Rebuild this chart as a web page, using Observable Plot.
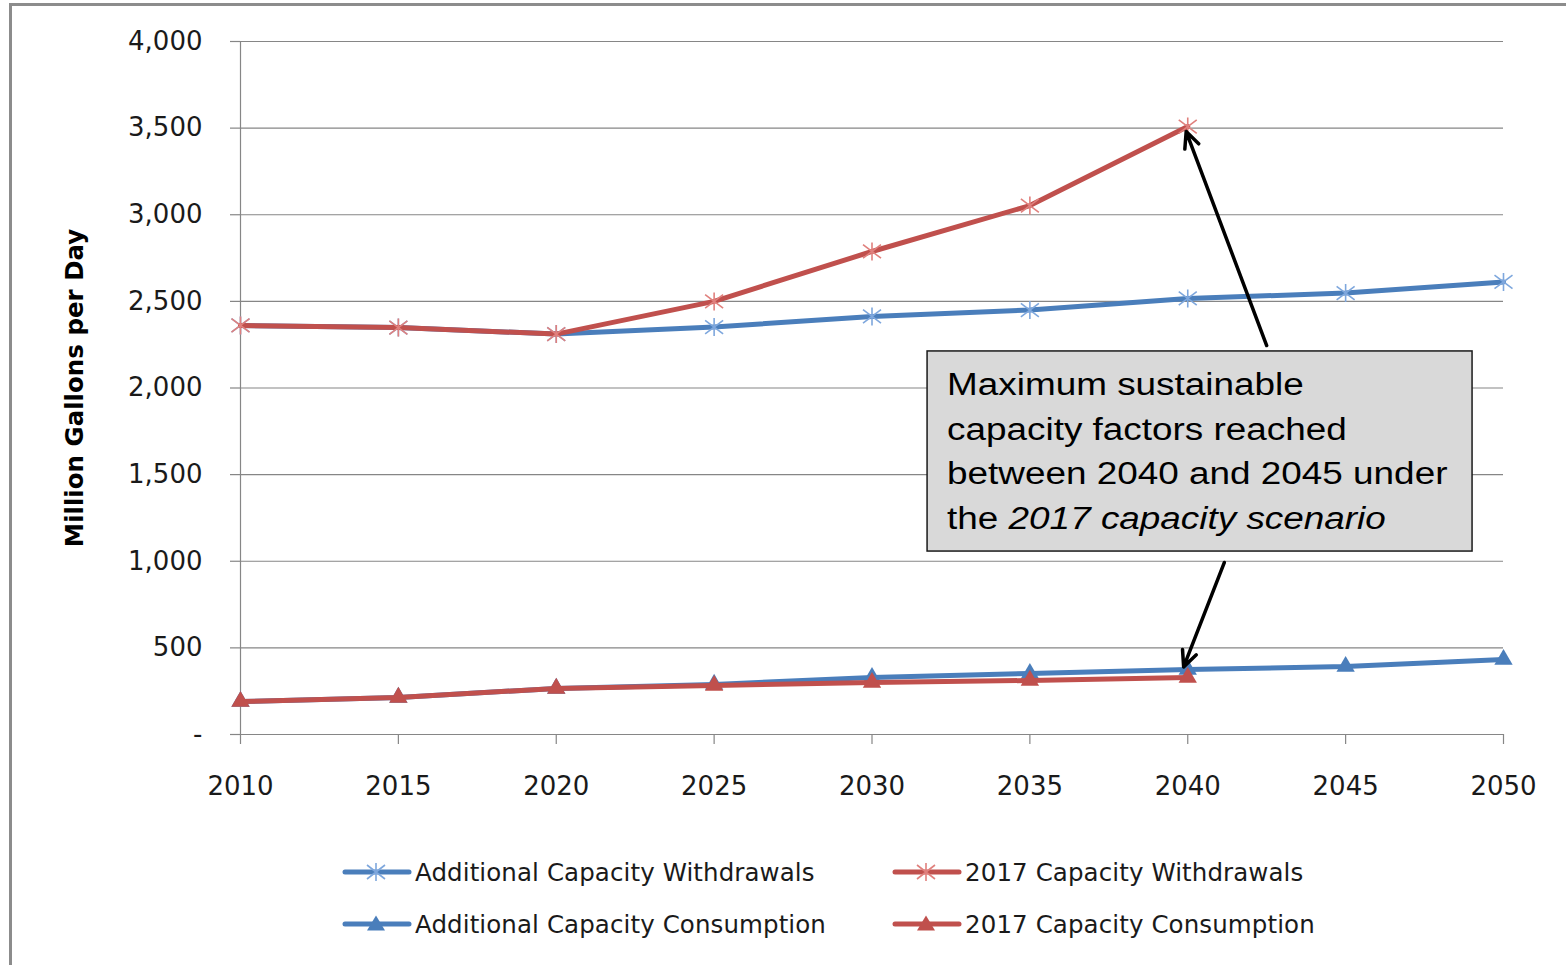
<!DOCTYPE html>
<html><head><meta charset="utf-8">
<script src="https://cdn.jsdelivr.net/npm/d3@7"></script>
<script src="https://cdn.jsdelivr.net/npm/@observablehq/plot@0.6"></script>
<style>
body{margin:0;background:#fff;}
#wrap{position:relative;width:1566px;height:965px;overflow:hidden;font-family:"DejaVu Sans",sans-serif;background:#fff;}
#frame{position:absolute;left:9px;top:3px;width:1600px;height:1000px;border-left:3px solid #8c8c8c;border-top:3px solid #8c8c8c;pointer-events:none;}
#legend{position:relative;height:135px;}
.item{position:absolute;display:flex;align-items:center;font-size:24.5px;letter-spacing:0.1px;color:#1a1a1a;height:30px;white-space:nowrap;}
.item svg{margin-right:3px;}
</style></head><body>
<div id="wrap"><div id="chart"></div><div id="legend"></div><div id="frame"></div></div>
<script>
// ---- data ----
const years = [2010, 2015, 2020, 2025, 2030, 2035, 2040, 2045, 2050];
const additionalWithdrawals = [2361, 2349, 2311, 2352, 2413, 2450, 2517, 2548, 2612];
const capacity2017Withdrawals = [2361, 2349, 2311, 2500, 2788, 3053, 3509];
const additionalConsumption = [190, 214, 266, 289, 329, 352, 375, 392, 433];
const capacity2017Consumption = [190, 214, 266, 283, 300, 312, 329];
const yTicks = [0, 500, 1000, 1500, 2000, 2500, 3000, 3500, 4000];
const seriesNames = ["Additional Capacity Withdrawals", "2017 Capacity Withdrawals", "Additional Capacity Consumption", "2017 Capacity Consumption"];
const yLabel = "Million Gallons per Day";
const noteLines = [["Maximum sustainable", ""], ["capacity factors reached", ""], ["between 2040 and 2045 under", ""], ["the ", "2017 capacity scenario"]];
// annotation geometry in data units (year, MGD)
const noteBox = {x1: 2031.76, x2: 2049.02, y1: 1056, y2: 2211};
const noteArrows = [
  {x1: 2042.5, y1: 2245, x2: 2039.95, y2: 3480},
  {x1: 2041.16, y1: 993, x2: 2039.87, y2: 390}
];

// ---- styles ----
const blue = "#4a7ebb", red = "#c0504d";
const blueMarker = "#7ea7dd", redMarker = "#e0807d";
const grid = "#868686";

const seriesDefs = [
  {name: seriesNames[0], values: additionalWithdrawals, color: blue, marker: blueMarker, type: "star"},
  {name: seriesNames[2], values: additionalConsumption, color: blue, marker: blue, type: "tri"},
  {name: seriesNames[1], values: capacity2017Withdrawals, color: red, marker: redMarker, type: "star"},
  {name: seriesNames[3], values: capacity2017Consumption, color: red, marker: red, type: "tri"}
];
const rows = seriesDefs.flatMap(s => s.values.map((v, i) => ({series: s.name, year: years[i], value: v})));

const star = {
  draw(ctx, size) {
    const a = Math.sqrt(size / Math.PI);
    ctx.moveTo(0, -a); ctx.lineTo(0, a);
    const dx = a, dy = a * 0.75;
    ctx.moveTo(-dx, -dy); ctx.lineTo(dx, dy);
    ctx.moveTo(-dx, dy); ctx.lineTo(dx, -dy);
  }
};

const seriesMarks = seriesDefs.flatMap(s => {
  const d = rows.filter(r => r.series === s.name);
  const m = [Plot.line(d, {x: "year", y: "value", stroke: s.color, strokeWidth: 5, strokeLinejoin: "round", strokeLinecap: "round"})];
  if (s.type === "star") m.push(Plot.dot(d, {x: "year", y: "value", symbol: star, r: 9, stroke: s.marker, strokeWidth: 1.6, fill: "none"}));
  else m.push(Plot.dot(d, {x: "year", y: "value", symbol: "triangle", r: 6.8, fill: s.marker, stroke: "none"}));
  return m;
});

const chart = Plot.plot({
  width: 1566, height: 830,
  marginTop: 41, marginBottom: 96, marginLeft: 240, marginRight: 63,
  style: {fontFamily: "'DejaVu Sans', sans-serif", fontSize: "26px", color: "#1a1a1a", background: "transparent", overflow: "visible"},
  x: {domain: [2010, 2050], label: null},
  y: {domain: [0, 4000], label: null},
  marks: [
    Plot.gridY(yTicks, {stroke: grid, strokeOpacity: 1, strokeWidth: 1.2}),
    Plot.axisY(yTicks, {tickSize: 10, tickPadding: 28, stroke: grid, strokeWidth: 1.2, tickFormat: d => d === 0 ? "-" : d3.format(",")(d), fontSize: 26, label: null, fill: "#1a1a1a"}),
    Plot.axisX(years, {tickSize: 10, tickPadding: 32, stroke: grid, strokeWidth: 1.2, tickFormat: d => String(d), fontSize: 26, label: null, fill: "#1a1a1a"}),
    Plot.ruleX([2010], {stroke: grid, strokeWidth: 1.2}),
    Plot.ruleY([0], {stroke: grid, strokeWidth: 1.2}),
    Plot.text([yLabel], {frameAnchor: "left", textAnchor: "middle", dx: -165, rotate: -90, fontWeight: "bold", fontSize: 24.5, fill: "#000"}),
    ...seriesMarks,
    Plot.arrow(noteArrows, {x1: "x1", y1: "y1", x2: "x2", y2: "y2", stroke: "#000", strokeWidth: 3.5, headAngle: 50, headLength: 7.5}),
    Plot.rect([noteBox], {x1: "x1", x2: "x2", y1: "y1", y2: "y2", fill: "#d9d9d9", stroke: "#1a1a1a", strokeWidth: 1.5})
  ]
});
document.getElementById("chart").appendChild(chart);

// annotation text placed through the scales (reference text is horizontally stretched)
const sx = chart.scale("x"), sy = chart.scale("y");
const bx = sx.apply(noteBox.x1), by = sy.apply(noteBox.y2);
const ns = "http://www.w3.org/2000/svg";
const t = document.createElementNS(ns, "text");
t.style.fontFamily = "'Liberation Sans', Arial, sans-serif";
t.style.fontSize = "31px";
t.setAttribute("text-anchor", "start");
t.setAttribute("fill", "#000");
t.setAttribute("transform", `translate(${bx + 20},${by}) scale(1.19,1)`);
noteLines.forEach((ln, i) => {
  const a = document.createElementNS(ns, "tspan");
  a.setAttribute("x", 0);
  a.setAttribute("y", 44 + i * 44.7);
  a.textContent = ln[0];
  t.appendChild(a);
  if (ln[1]) {
    const b = document.createElementNS(ns, "tspan");
    b.setAttribute("font-style", "italic");
    b.textContent = ln[1];
    t.appendChild(b);
  }
});
chart.appendChild(t);

// legend
const legend = document.getElementById("legend");
const legendPos = [
  {name: seriesNames[0], left: 342, top: 27},
  {name: seriesNames[1], left: 892, top: 27},
  {name: seriesNames[2], left: 342, top: 79},
  {name: seriesNames[3], left: 892, top: 79}
];
legendPos.forEach(p => {
  const s = seriesDefs.find(d => d.name === p.name);
  const div = document.createElement("div");
  div.className = "item";
  div.style.left = p.left + "px";
  div.style.top = p.top + "px";
  let sym;
  if (s.type === "star") {
    sym = `<path d="M34,6V24M25,8L43,22M25,22L43,8" stroke="${s.marker}" stroke-width="1.6" fill="none"/>`;
  } else {
    sym = `<path d="M34,6.5L43,21.5L25,21.5Z" fill="${s.marker}"/>`;
  }
  div.innerHTML = `<svg width="70" height="30"><line x1="3" x2="67" y1="15" y2="15" stroke="${s.color}" stroke-width="5" stroke-linecap="round"/>${sym}</svg><span>${s.name}</span>`;
  legend.appendChild(div);
});
</script>
</body></html>
